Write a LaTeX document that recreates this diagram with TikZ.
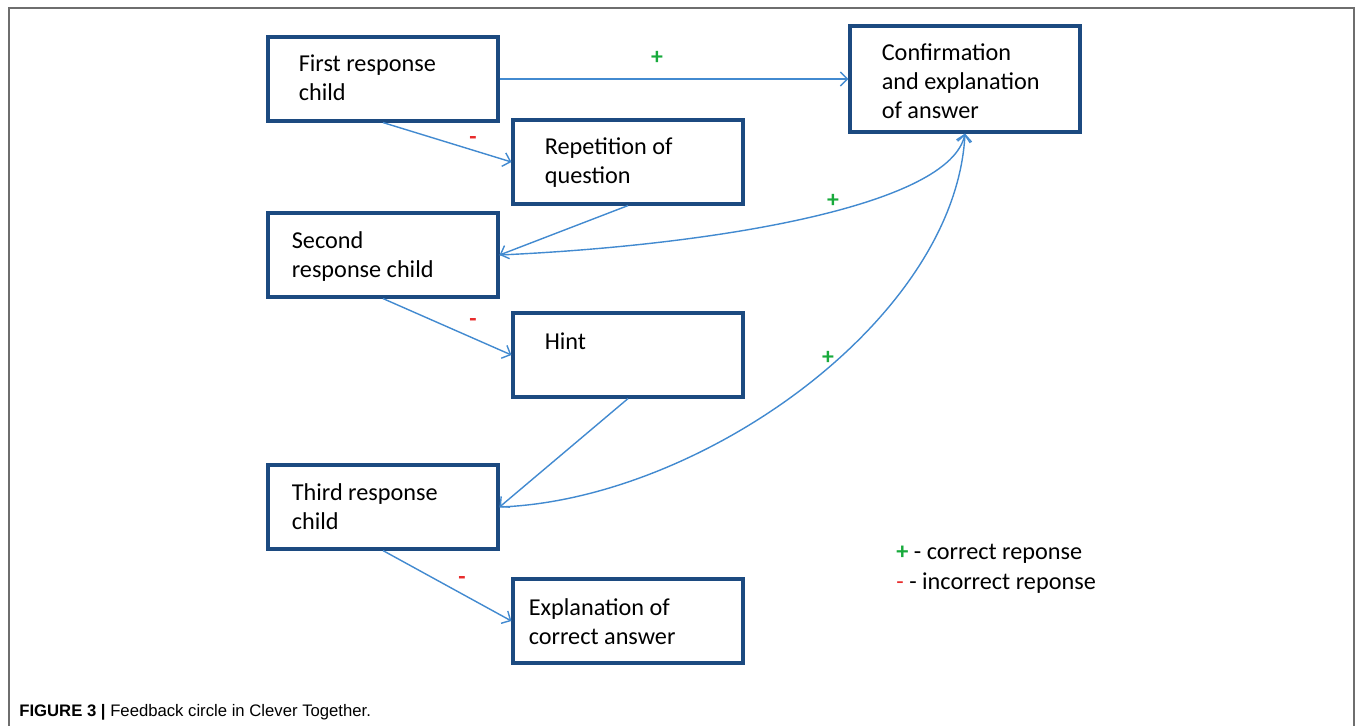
\documentclass[tikz,border=0pt]{standalone}
\usepackage{fontspec}
\setmainfont{Carlito}
\newfontfamily\capfont{Liberation Sans}
\usetikzlibrary{arrows.meta}

\definecolor{boxblue}{RGB}{28,74,128}
\definecolor{linkblue}{RGB}{66,138,208}
\definecolor{plusgreen}{RGB}{24,170,60}
\definecolor{minusred}{RGB}{232,44,44}
\definecolor{framegray}{RGB}{110,110,110}

\tikzset{
    rbox/.style={draw=boxblue, line width=1.8pt, minimum width=4.6cm, minimum height=1.68cm, inner sep=0pt},
    rtext/.style={anchor=north west, inner sep=0pt, align=left, font=\fontsize{13.8}{16.4}\selectfont},
    link/.style={draw=linkblue, line width=0.8pt, -{Straight Barb[length=4pt,width=8pt]}},
    plus/.style={text=plusgreen, inner sep=0pt, font=\bfseries\fontsize{13.5}{14}\selectfont},
    minus/.style={text=minusred, inner sep=0pt, font=\bfseries\fontsize{13.5}{14}\selectfont},
}

\begin{document}
\begin{tikzpicture}[x=0.02cm, y=-0.02cm]
    \useasboundingbox (0,0) rectangle (1355,726);
    % frame
    \draw[framegray, line width=1.1pt] (9,726) -- (9,8) -- (1354,8) -- (1354,726);

    % boxes
    \node[rbox] (first) at (383,79) {};
    \node[rbox, minimum height=2.12cm] (conf) at (965,79) {};
    \node[rbox] (rep) at (628,162) {};
    \node[rbox] (second) at (383,255) {};
    \node[rbox] (hint) at (628,355) {};
    \node[rbox] (third) at (383,507) {};
    \node[rbox] (expl) at (628,621) {};

    % box texts
    \node[rtext] (firstT) at ([shift={(32,19)}]first.north west) {First response\\child};
    \node[rtext] (confT) at ([shift={(33,19)}]conf.north west) {Confirmation\\and explanation\\of answer};
    \node[rtext] (repT) at ([shift={(33,19)}]rep.north west) {Repetition of\\question};
    \node[rtext] (secondT) at ([shift={(25,20)}]second.north west) {Second\\response child};
    \node[rtext] (hintT) at ([shift={(33,21)}]hint.north west) {Hint};
    \node[rtext] (thirdT) at ([shift={(25,20)}]third.north west) {Third response\\child};
    \node[rtext] (explT) at ([shift={(17,21)}]expl.north west) {Explanation of\\correct answer};

    % connectors
    \draw[link] (first.east) -- (conf.west);
    \draw[link] (first.south) -- (rep.west);
    \draw[link] (rep.south) -- (second.east);
    \draw[link] (second.east) .. controls (720,245) and (950,205) .. (conf.south);
    \draw[link] (second.south) -- (hint.west);
    \draw[link] (hint.south) -- (third.east);
    \draw[link] (third.east) .. controls (700,500) and (955,320) .. (conf.south);
    \draw[link] (third.south) -- (expl.west);

    % signs on the connectors
    \node[plus] (p1) at (657,58) {+};
    \node[minus] (m1) at (473,141) {-};
    \node[plus] (p2) at (833,201) {+};
    \node[minus] (m2) at (473,323) {-};
    \node[plus] (p3) at (828,358) {+};
    \node[minus] (m3) at (462,580) {-};

    % legend
    \node[rtext, anchor=west] (legC) at (896,554) {\textcolor{plusgreen}{\textbf{+}} - correct reponse};
    \node[rtext, anchor=west] (legI) at (896,583) {\textcolor{minusred}{-} - incorrect reponse};

    % caption
    \node[anchor=west, inner sep=0pt, font=\capfont\fontsize{9.5}{11}\selectfont] (cap) at (19,712) {\textbf{FIGURE 3 |} Feedback circle in Clever Together.};
\end{tikzpicture}
\end{document}
